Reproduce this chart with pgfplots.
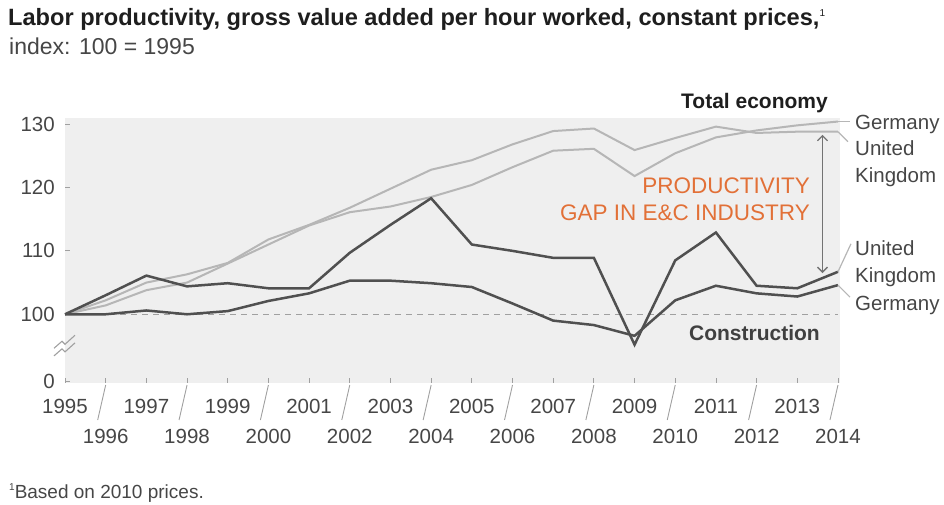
\documentclass[border=0pt]{standalone}
\usepackage{pgfplots}
\pgfplotsset{compat=1.18}
\usepackage{fontspec}
\setmainfont{Liberation Sans}
\usetikzlibrary{arrows.meta}
\definecolor{bgc}{RGB}{239,239,239}
\definecolor{darkln}{RGB}{80,80,80}
\definecolor{lightln}{RGB}{182,182,182}
\definecolor{labc}{RGB}{70,70,70}
\definecolor{titc}{RGB}{30,30,30}
\definecolor{orng}{RGB}{226,112,55}
\definecolor{dashc}{RGB}{160,160,160}

\pgfplotstableread{
year ukt det ukc dec
1995 100.0 100.0 100.0 100.0
1996 102.2 101.4 103.0 100.0
1997 105.0 103.8 106.1 100.6
1998 106.3 105.0 104.4 100.0
1999 108.1 108.0 104.9 100.5
2000 111.8 111.0 104.1 102.1
2001 114.1 114.0 104.1 103.3
2002 116.8 116.1 109.7 105.3
2003 119.8 117.0 114.1 105.3
2004 122.8 118.5 118.3 104.9
2005 124.3 120.4 111.0 104.3
2006 126.8 123.2 110.0 101.7
2007 128.9 125.8 108.9 99.0
2008 129.3 126.1 108.9 98.3
2009 125.9 121.8 95.2 96.6
2010 127.8 125.4 108.5 102.2
2011 129.6 127.9 112.9 104.5
2012 128.6 129.0 104.5 103.3
2013 128.8 129.8 104.1 102.8
2014 128.8 130.4 106.7 104.6
}\datatable

\begin{document}
\begin{tikzpicture}
\useasboundingbox (0pt,0pt) rectangle (944pt,505pt);
\begin{axis}[
  at={(65pt,122pt)}, anchor=south west,
  scale only axis, width=775pt, height=265pt,
  xmin=1995, xmax=2014.05, ymin=89.16, ymax=130.96,
  axis background/.style={fill=bgc},
  axis line style={draw=none},
  clip=false,
  tick pos=left,
  tick align=inside,
  major tick length=5pt,
  tick style={draw=dashc, line width=0.8pt},
  /pgf/number format/1000 sep={},
  /pgf/number format/assume math mode=true,
  tick label style={font=\fontsize{20.5}{22}\selectfont, text=labc},
  xtick={1995,1997,...,2013},
  extra x ticks={1996,1998,...,2014},
  xticklabel style={anchor=center, inner sep=0pt, yshift=-23.7pt},
  extra x tick style={xticklabel style={yshift=-30pt}},
  ytick={89.37,100,110,120,130},
  yticklabels={0,100,110,120,130},
  yticklabel style={anchor=east, inner sep=0pt, xshift=-10pt},
]
\addplot[dashc, line width=1.5pt, dash pattern=on 6pt off 5pt] coordinates {(1995,100) (2014,100)};
\addplot[lightln, line width=2pt] table[x=year, y=ukt] {\datatable};
\addplot[lightln, line width=2pt] table[x=year, y=det] {\datatable};
\addplot[darkln, line width=2.5pt] table[x=year, y=dec] {\datatable};
\addplot[darkln, line width=2.5pt] table[x=year, y=ukc] {\datatable};
% slashes under even years
\pgfplotsinvokeforeach{1996,1998,2000,2002,2004,2006,2008,2010,2012,2014}{
  \draw[dashc, line width=0.9pt] (axis cs:#1,89.16) ++(0pt,-2pt) -- ++(-8pt,-35pt);
}
% axis break symbol
\draw[dashc, line width=1.1pt] (axis cs:1995,95.9) ++(-11pt,-8pt) -- ++(8pt,7pt) -- ++(3pt,-3pt) -- ++(10pt,9pt);
\draw[dashc, line width=1.1pt] (axis cs:1995,94.7) ++(-11pt,-8pt) -- ++(8pt,7pt) -- ++(3pt,-3pt) -- ++(10pt,9pt);
% gap arrow
\draw[darkln!80, line width=1.3pt, {Straight Barb[length=5pt,width=10pt]}-{Straight Barb[length=5pt,width=10pt]}] (axis cs:2013.62,128.3) -- (axis cs:2013.62,106.5);
% connectors
\draw[lightln, line width=1.2pt] (axis cs:2014,130.4) -- ++(12pt,0pt);
\draw[lightln, line width=1.2pt] (axis cs:2014,128.8) -- ++(10pt,-10pt);
\draw[lightln, line width=1.2pt] (axis cs:2014,106.7) -- ++(13pt,28pt);
\draw[lightln, line width=1.2pt] (axis cs:2014,104.6) -- ++(12pt,-12pt);
\end{axis}
% titles
\node[anchor=base west, inner sep=0pt, text=titc] at (8pt,479pt) {\fontsize{23.6}{26}\selectfont\bfseries Labor productivity, gross value added per hour worked, constant prices,\raisebox{9pt}{\mdseries\fontsize{10}{12}\selectfont 1}};
\node[anchor=base west, inner sep=0pt, text=labc] at (9pt,450pt) {\fontsize{23}{26}\selectfont index: 100 = 1995};
\node[anchor=base west, inner sep=0pt, text=labc] at (9pt,6pt) {\fontsize{19}{22}\selectfont\raisebox{8pt}{\fontsize{10}{12}\selectfont 1}Based on 2010 prices.};
% in-chart labels
\node[anchor=base east, inner sep=0pt, text=titc] at (828pt,396.5pt) {\fontsize{21}{24}\selectfont\bfseries Total economy};
\node[anchor=base east, inner sep=0pt, text=titc!85] at (820pt,164.5pt) {\fontsize{21}{24}\selectfont\bfseries Construction};
\node[anchor=base east, inner sep=0pt, text=orng] at (810pt,311pt) {\fontsize{22.5}{26}\selectfont PRODUCTIVITY};
\node[anchor=base east, inner sep=0pt, text=orng] at (810pt,284pt) {\fontsize{22.5}{26}\selectfont GAP IN E\&C INDUSTRY};
% right labels
\begin{scope}[every node/.style={anchor=base west, inner sep=0pt, text=labc, font=\fontsize{20.5}{24}\selectfont}]
\node at (855pt,375pt) {Germany};
\node at (855pt,349.4pt) {United};
\node at (855pt,322.7pt) {Kingdom};
\node at (855pt,249.4pt) {United};
\node at (855pt,222pt) {Kingdom};
\node at (855pt,194.4pt) {Germany};
\end{scope}
\end{tikzpicture}
\end{document}
